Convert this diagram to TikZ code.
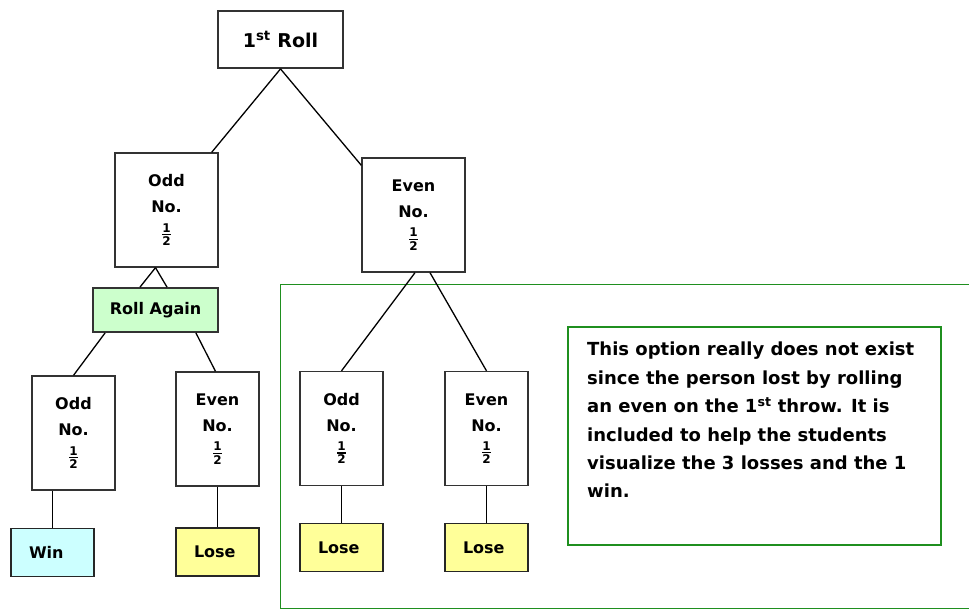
\documentclass[tikz,border=0pt]{standalone}
\usepackage{fontspec}
\usepackage{amsmath}
\setmainfont{DejaVu Sans}
\definecolor{rollfill}{HTML}{CCFFCC}
\definecolor{winfill}{HTML}{CCFFFF}
\definecolor{losefill}{HTML}{FFFF99}
\definecolor{framegreen}{HTML}{1F8F1F}
\newcommand{\halfmark}{$\genfrac{}{}{1.3pt}{}{\text{\fontsize{12}{12}\selectfont 1}}{\text{\fontsize{12}{12}\selectfont 2}}$}
\begin{document}
\begin{tikzpicture}[
        x=1pt, y=-1pt, % координаты в пикселях, ось y вниз
        font=\bfseries\fontsize{16}{26}\selectfont,
        edge/.style = {draw, line width=1.3pt},
        cell/.style={draw=black!80, line width=1.3pt, align=center, inner sep=0pt}, % Стиль узлов
        big/.style={cell, minimum width=103pt, minimum height=114pt},
        small/.style={cell, minimum width=83pt, minimum height=114pt},
        result/.style={draw=black!85, line width=1.8pt, align=left, text width=47pt,
                inner xsep=18pt, inner ysep=0pt, minimum height=48pt},
        greenline/.style={draw=framegreen, line width=1.4pt},
    ]
    \clip (0,0) rectangle (969,611);

    % большая рамка и пояснение
    \node[greenline, minimum width=760pt, minimum height=324pt, anchor=north west] (frame) at (280,284) {};
    \node[greenline, minimum width=373pt, minimum height=218pt] (noteframe) at (754.5,436) {};
    \node[anchor=north west, align=left, inner sep=0pt,
        font=\bfseries\fontsize{18}{28.4}\selectfont] (note) at (587,342) {This option really does not exist\\
        since the person lost by rolling\\
        an even on the 1\textsuperscript{st} throw. It is\\
        included to help the students\\
        visualize the 3 losses and the 1\\
        win.};

    % дерево
    \node[cell, line width=1.8pt, minimum width=125pt, minimum height=57pt,
        font=\bfseries\fontsize{19}{26}\selectfont] (root) at (280.5,39.5) {1\textsuperscript{st} Roll};
    \node[big] (oddA) at (166.5,210) {Odd\\No.\\\halfmark};
    \node[big] (evenA) at (413.5,215) {Even\\No.\\\halfmark};
    \node[cell, line width=1.8pt, fill=rollfill, minimum width=125pt, minimum height=44pt] (roll) at (155.5,310) {Roll Again};
    \node[small] (oddB) at (73.5,433) {Odd\\No.\\\halfmark};
    \node[small] (evenB) at (217.5,429) {Even\\No.\\\halfmark};
    \node[small] (oddC) at (341.5,428.5) {Odd\\No.\\\halfmark};
    \node[small] (evenC) at (486.5,428.5) {Even\\No.\\\halfmark};
    \node[result, fill=winfill] (win) at (52.5,552.5) {Win};
    \node[result, fill=losefill] (loseB) at (217.5,552) {Lose};
    \node[result, fill=losefill] (loseC) at (341.5,547.5) {Lose};
    \node[result, fill=losefill] (loseD) at (486.5,547.5) {Lose};

    % ветви
    \draw[edge] (root.south) -- ([xshift=-7pt]oddA.north east);
    \draw[edge] (root.south) -- ([yshift=-8pt]evenA.north west);
    \draw[edge] ([xshift=-11pt]oddA.south) -- ([xshift=-15.5pt]roll.north);
    \draw[edge] ([xshift=-11pt]oddA.south) -- ([xshift=11.5pt]roll.north);
    \draw[edge] ([xshift=13pt]roll.south west) -- (oddB.north);
    \draw[edge] ([xshift=-23pt]roll.south east) -- ([xshift=-2pt]evenB.north);
    \draw[edge] ([xshift=1.5pt]evenA.south) -- (oddC.north);
    \draw[edge] ([xshift=16.5pt]evenA.south) -- (evenC.north);
    \draw[edge] (win.north) -- (win.north |- oddB.south);
    \draw[edge] (loseB.north) -- (evenB.south);
    \draw[edge] (loseC.north) -- (oddC.south);
    \draw[edge] (loseD.north) -- (evenC.south);
\end{tikzpicture}
\end{document}
